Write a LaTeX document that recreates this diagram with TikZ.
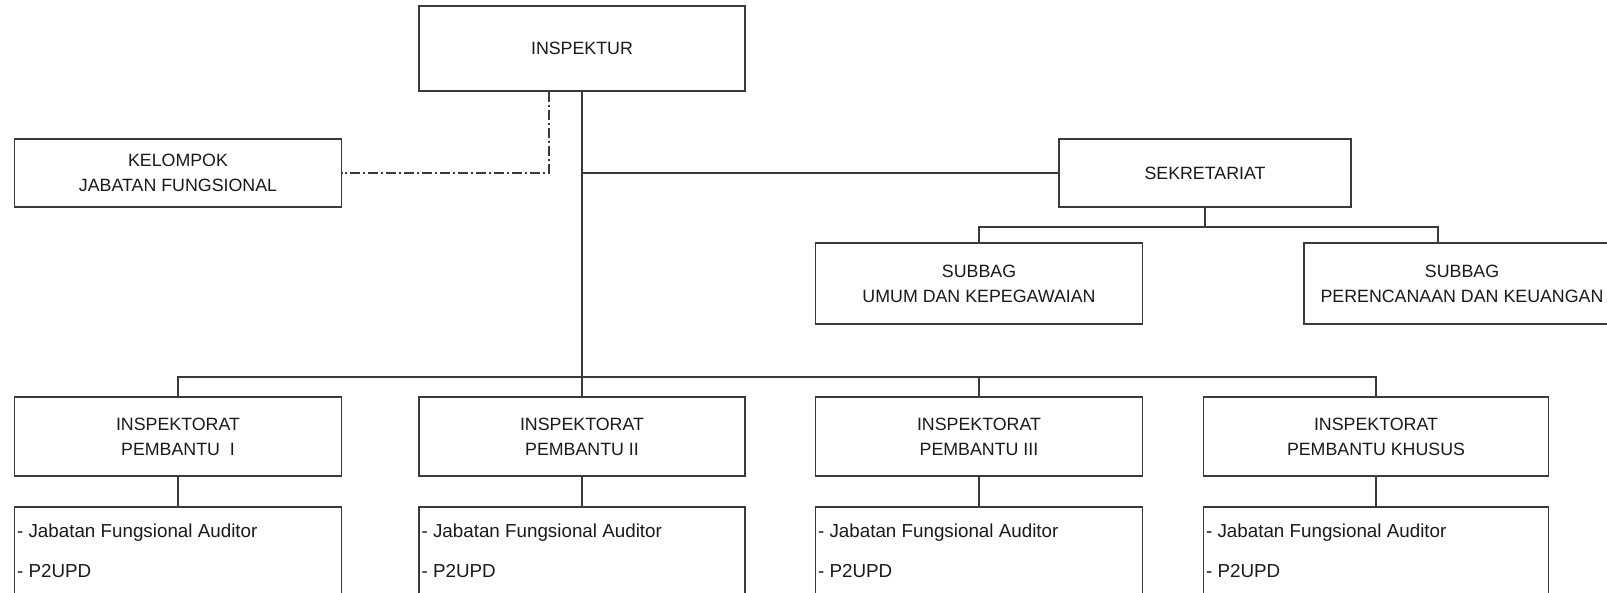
\documentclass[tikz,border=0pt]{standalone}
\usepackage{fontspec}
\setmainfont{Liberation Sans}
\definecolor{lc}{HTML}{3A3A3A}
\definecolor{tc}{HTML}{1A1A1A}
\begin{document}
\begin{tikzpicture}[x=1pt,y=-1pt,
  box/.style={draw=lc, line width=1.3pt, minimum width=327pt, inner sep=0pt, align=center,
    font=\fontsize{17.8}{25}\selectfont, text=tc},
  auditem/.style={inner sep=0pt, font=\fontsize{18.8}{22}\selectfont, text=tc},
  conn/.style={draw=lc, line width=1.3pt},
  dd/.style={conn, dash pattern=on 10pt off 3pt on 2pt off 3pt}]
\useasboundingbox (0,0) rectangle (1607,592);
\clip (0,0) rectangle (1607,592);
\fill[white] (0,0) rectangle (1607,592);

\node[box, minimum width=326pt, minimum height=85pt] (insp) at (582,48.5) {INSPEKTUR};
\node[box, minimum height=68pt] (kel) at (178,173) {KELOMPOK\\JABATAN FUNGSIONAL};
\node[box, minimum width=292pt, minimum height=68pt] (sek) at (1205,173) {SEKRETARIAT};
\node[box, minimum height=81pt] (sub1) at (979,283.5) {SUBBAG\\UMUM DAN KEPEGAWAIAN};
\node[box, minimum width=316pt, minimum height=81pt] (sub2) at (1462,283.5) {SUBBAG\\PERENCANAAN DAN KEUANGAN};

\node[box, minimum height=79pt] (ins1) at (178,436.5) {INSPEKTORAT\\PEMBANTU\ \ I};
\node[box, minimum width=326pt, minimum height=79pt] (ins2) at (582,436.5) {INSPEKTORAT\\PEMBANTU II};
\node[box, minimum height=79pt] (ins3) at (979,436.5) {INSPEKTORAT\\PEMBANTU III};
\node[box, minimum width=345pt, minimum height=79pt] (ins4) at (1376,436.5) {INSPEKTORAT\\PEMBANTU KHUSUS};

\node[box, minimum height=110pt] (aud1) at (178,562) {};
\node[box, minimum width=326pt, minimum height=110pt] (aud2) at (582,562) {};
\node[box, minimum height=110pt] (aud3) at (979,562) {};
\node[box, minimum width=345pt, minimum height=110pt] (aud4) at (1376,562) {};

\foreach \i in {1,2,3,4}{
  \path (aud\i.north west) ++(3,31.5) node[auditem, anchor=base west] (aud\i j) {- Jabatan Fungsional Auditor}
        ++(0,40) node[auditem, anchor=base west] (aud\i p) {- P2UPD};
  \draw[conn] (ins\i.south) -- (aud\i.north);
}

\draw[conn] (insp.south) -- (insp.south |- ins2.north);
\draw[conn] (insp.south |- sek.west) -- (sek.west);
\draw[dd] ([xshift=-33pt]insp.south) |- (kel.east);

\coordinate (sb) at (1205,227);
\draw[conn] (sek.south) -- (sb);
\draw[conn] (sub1.north) |- (sb) -| ([xshift=-24pt]sub2.north);

\coordinate (bb) at (582,377);
\draw[conn] (ins1.north) |- (bb) -| (ins4.north);
\draw[conn] (ins3.north) -- (ins3.north |- bb);
\end{tikzpicture}
\end{document}
